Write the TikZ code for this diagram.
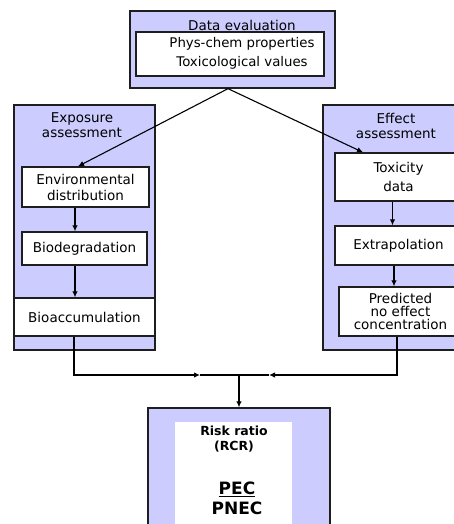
\documentclass[tikz,border=0pt]{standalone}
\usepackage{fontspec}
\setmainfont{DejaVu Sans}
\usetikzlibrary{arrows.meta}
\definecolor{lav}{RGB}{204,204,255}
\definecolor{edge}{RGB}{30,30,30}
\begin{document}
\begin{tikzpicture}[x=1pt,y=-1pt,
  outerbox/.style={draw=edge,line width=1.3pt,fill=lav,inner sep=0pt},
  innerbox/.style={draw=edge,line width=1.3pt,fill=white,inner sep=0pt,align=center,
    font=\fontsize{13.5}{16}\selectfont},
  txt/.style={inner sep=0pt,align=center,font=\fontsize{13.5}{15}\selectfont},
  conn/.style={draw=black,line width=1.1pt},
  arr/.style={conn,-{Latex[length=6pt,width=5.5pt]}}]
\useasboundingbox (0,0) rectangle (454,524);
\clip (0,0) rectangle (454,524);
% top
\node[outerbox,minimum width=205pt,minimum height=77pt] (dataeval) at (232.5,49.5) {};
\node[txt] (dataevalt) at (242,25) {Data evaluation};
\node[innerbox,minimum width=188pt,minimum height=44pt] (props) at (230,54) {};
\node[txt,font=\fontsize{13.3}{19}\selectfont] (propst) at (242,53.5) {Phys-chem properties\\Toxicological values};
% left
\node[outerbox,minimum width=141pt,minimum height=245pt] (expo) at (84.5,227.5) {};
\node[txt] (expot) at (82,125.5) {Exposure\\assessment};
\node[innerbox,minimum width=127pt,minimum height=40pt] (env) at (85.5,187) {Environmental\\distribution};
\node[innerbox,minimum width=125pt,minimum height=33pt] (biodeg) at (84.5,248.5) {Biodegradation};
\node[innerbox,minimum width=141pt,minimum height=38pt] (bioacc) at (84.5,317) {Bioaccumulation};
% right
\node[outerbox,minimum width=137pt,minimum height=245pt] (effect) at (391.5,227.5) {};
\node[txt] (effectt) at (396,125.5) {Effect\\assessment};
\node[innerbox,minimum width=127pt,minimum height=48pt,font=\fontsize{13.5}{19}\selectfont] (tox) at (398.5,177) {Toxicity\\data};
\node[innerbox,minimum width=127pt,minimum height=39pt] (extra) at (398.5,245.5) {Extrapolation};
\node[innerbox,minimum width=123pt,minimum height=49pt,font=\fontsize{13.5}{13}\selectfont] (pred) at (400.5,311.5) {Predicted\\no effect\\concentration};
% risk
\node[outerbox,minimum width=182pt,minimum height=132pt] (risk) at (239,474) {};
\node[fill=white,inner sep=0pt,minimum width=117pt,minimum height=118pt] (riskin) at (233.5,481) {};
\node[txt,font=\bfseries\fontsize{12.5}{15}\selectfont] (riskt) at (234,439.5) {Risk ratio\\(RCR)};
\node[txt,font=\bfseries\fontsize{17}{20}\selectfont] (ratio) at (237,498) {\underline{PEC}\\PNEC};
% connectors
\draw[arr] ([xshift=-4.5pt]dataeval.south) -- ([xshift=-7.5pt]env.north);
\draw[arr] ([xshift=-4.5pt]dataeval.south) -- ([xshift=-35.5pt]tox.north);
\draw[arr] ([xshift=-10.5pt]env.south) -- ([xshift=-10.5pt]env.south |- biodeg.north);
\draw[arr] ([xshift=-9.5pt]biodeg.south) -- ([xshift=-9.5pt]biodeg.south |- bioacc.north);
\draw[arr] ([xshift=-6pt]tox.south) -- ([xshift=-6pt]tox.south |- extra.north);
\draw[arr] ([xshift=-4.5pt]extra.south) -- ([xshift=-4.5pt]extra.south |- pred.north);
\coordinate (jl) at (200,375);
\coordinate (jr) at (269,375);
\coordinate (jc) at (239,375);
\draw[conn] (jl) -- (jr);
\draw[arr] ([xshift=-10.5pt]bioacc.south) |- (jl);
\draw[arr] ([xshift=-3.5pt]pred.south) |- (jr);
\draw[arr] (jc) -- (risk.north);
\end{tikzpicture}
\end{document}
